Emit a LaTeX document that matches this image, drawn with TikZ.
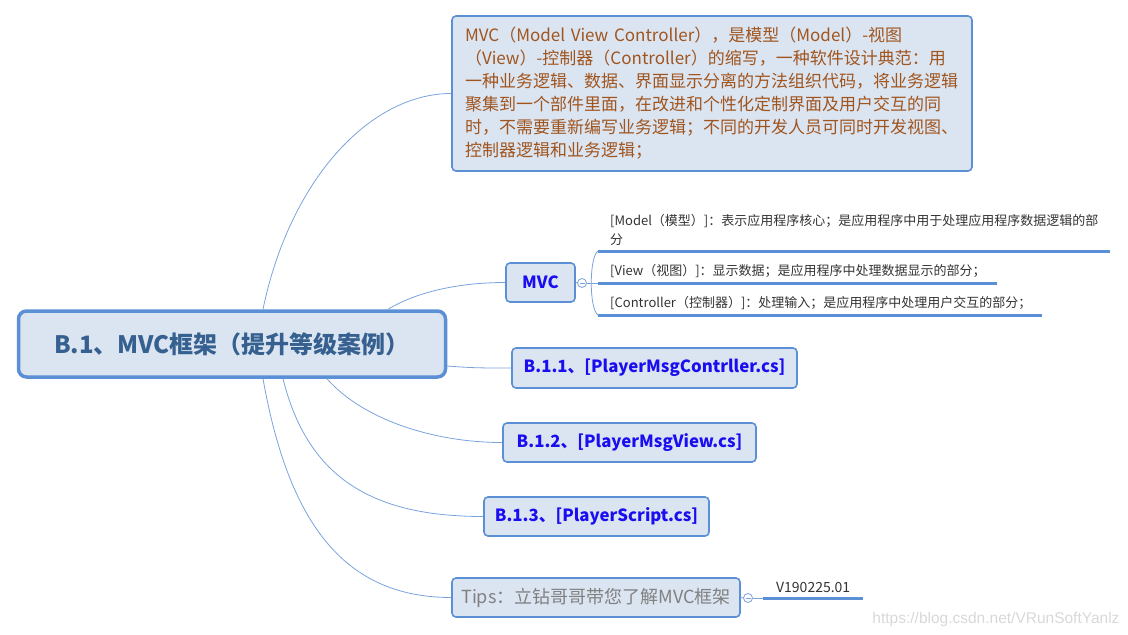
\documentclass[tikz,border=0pt]{standalone}
\usepackage{fontspec}
\setmainfont{Noto Sans CJK SC}
\newfontfamily\wmfont{Liberation Sans}
\usetikzlibrary{calc}
\definecolor{lineblue}{HTML}{5B8FD6}
\definecolor{linkblue}{HTML}{7AA3DC}
\definecolor{boxfill}{HTML}{DBE5F1}
\definecolor{rootink}{HTML}{35608F}
\definecolor{descink}{HTML}{A0541E}
\definecolor{topicink}{HTML}{1A0DF0}
\definecolor{tipink}{HTML}{808080}
\definecolor{leafink}{HTML}{333333}
\definecolor{markgray}{HTML}{D8D8D8}
\tikzset{
  topic/.style={draw=lineblue,fill=boxfill,line width=1.6pt,rounded corners=4pt,inner sep=0pt},
  sub/.style={topic,font=\fontsize{16.8}{20}\selectfont\bfseries,text=topicink},
  leaf/.style={inner xsep=12pt,inner ysep=5pt,align=left,anchor=south west,font=\fontsize{13}{19}\selectfont,text=leafink},
  uline/.style={draw=lineblue,line width=3pt},
  link/.style={draw=linkblue,line width=0.8pt},
  fold/.style={circle,draw=linkblue,fill=white,line width=0.8pt,minimum size=9pt,inner sep=0pt,
    path picture={\draw[linkblue,line width=0.8pt] ($(path picture bounding box.west)+(2pt,0)$) -- ($(path picture bounding box.east)+(-2pt,0)$);}},
}
\begin{document}
\begin{tikzpicture}[x=1pt,y=-1pt]
\useasboundingbox (0,0) rectangle (1128,635);
% central topic
\node[topic,line width=3.5pt,rounded corners=8pt,minimum width=427pt,minimum height=66pt,text=rootink,font=\fontsize{24}{30}\selectfont\bfseries] (root) at (232,344) {B.1、MVC框架（提升等级案例）};
% description
\node[topic,minimum width=520pt,minimum height=155pt,text width=494pt,align=left,text=descink,font=\fontsize{17}{23}\selectfont] (desc) at (712,93.5) {MVC（Model View Controller），是模型（Model）-视图\\（View）-控制器（Controller）的缩写，一种软件设计典范：用\\一种业务逻辑、数据、界面显示分离的方法组织代码，将业务逻辑\\聚集到一个部件里面，在改进和个性化定制界面及用户交互的同\\时，不需要重新编写业务逻辑；不同的开发人员可同时开发视图、\\控制器逻辑和业务逻辑；};
% subtopics
\node[sub,minimum width=69pt,minimum height=39pt] (mvc) at (540.5,282.5) {MVC};
\node[sub,minimum width=285pt,minimum height=40pt] (b11) at (654.5,368) {B.1.1、[PlayerMsgContrller.cs]};
\node[sub,minimum width=253pt,minimum height=39pt] (b12) at (629.5,442.5) {B.1.2、[PlayerMsgView.cs]};
\node[sub,minimum width=225pt,minimum height=39pt] (b13) at (596.5,516.5) {B.1.3、[PlayerScript.cs]};
\node[topic,minimum width=288pt,minimum height=39pt,text=tipink,font=\fontsize{18}{22}\selectfont] (tips) at (596,597.5) {Tips：立钻哥哥带您了解MVC框架};
\node[fold] (mvcdot) at (582,283) {};
\node[fold] (tipdot) at (748,598) {};
% leaves
\node[leaf,text width=488pt] (mdl) at (598,251) {[Model（模型）]：表示应用程序核心；是应用程序中用于处理应用程序数据逻辑的部\\分};
\node[leaf,text width=375pt] (vw) at (598,283) {[View（视图）]：显示数据；是应用程序中处理数据显示的部分；};
\node[leaf,text width=420pt] (ctl) at (598,315) {[Controller（控制器）]：处理输入；是应用程序中处理用户交互的部分；};
\node[leaf,inner xsep=0pt,text width=100pt,align=center,font=\fontsize{14}{19}\selectfont] (ver) at (763,598) {V190225.01};
\foreach \n in {mdl,vw,ctl,ver}
  \draw[uline] (\n.south west) -- (\n.south east);
% branches
\draw[link] ($(root.north)+(31,0)$) .. controls +(27,-130) and +(-81,0) .. (desc.west);
\draw[link] ($(root.north)+(156,0)$) .. controls +(30,-18) and +(-45,0) .. (mvc.west);
\draw[link] ($(root.east)+(0,22)$) .. controls +(25,2) and +(-30,0) .. (b11.west);
\draw[link] ($(root.south)+(95,0)$) .. controls +(35,40) and +(-70,0) .. (b12.west);
\draw[link] ($(root.south)+(51,0)$) .. controls +(25,100) and +(-110,0) .. (b13.west);
\draw[link] ($(root.south)+(31,0)$) .. controls +(25,140) and +(-110,0) .. (tips.west);
\draw[link] (mvc.east) -- (mvcdot.west);
\draw[link] (mvcdot.east) -- (vw.south west);
\draw[link] (mdl.south west) .. controls +(-9,6) and +(-9,-6) .. (ctl.south west);
\draw[link] (tips.east) -- (tipdot.west);
\draw[link] (tipdot.east) -- (ver.south west);
% watermark
\node[font=\wmfont\fontsize{15.5}{18}\selectfont,text=markgray,anchor=east] (mark) at (1123,619) {https://blog.csdn.net/VRunSoftYanlz};
\end{tikzpicture}
\end{document}
